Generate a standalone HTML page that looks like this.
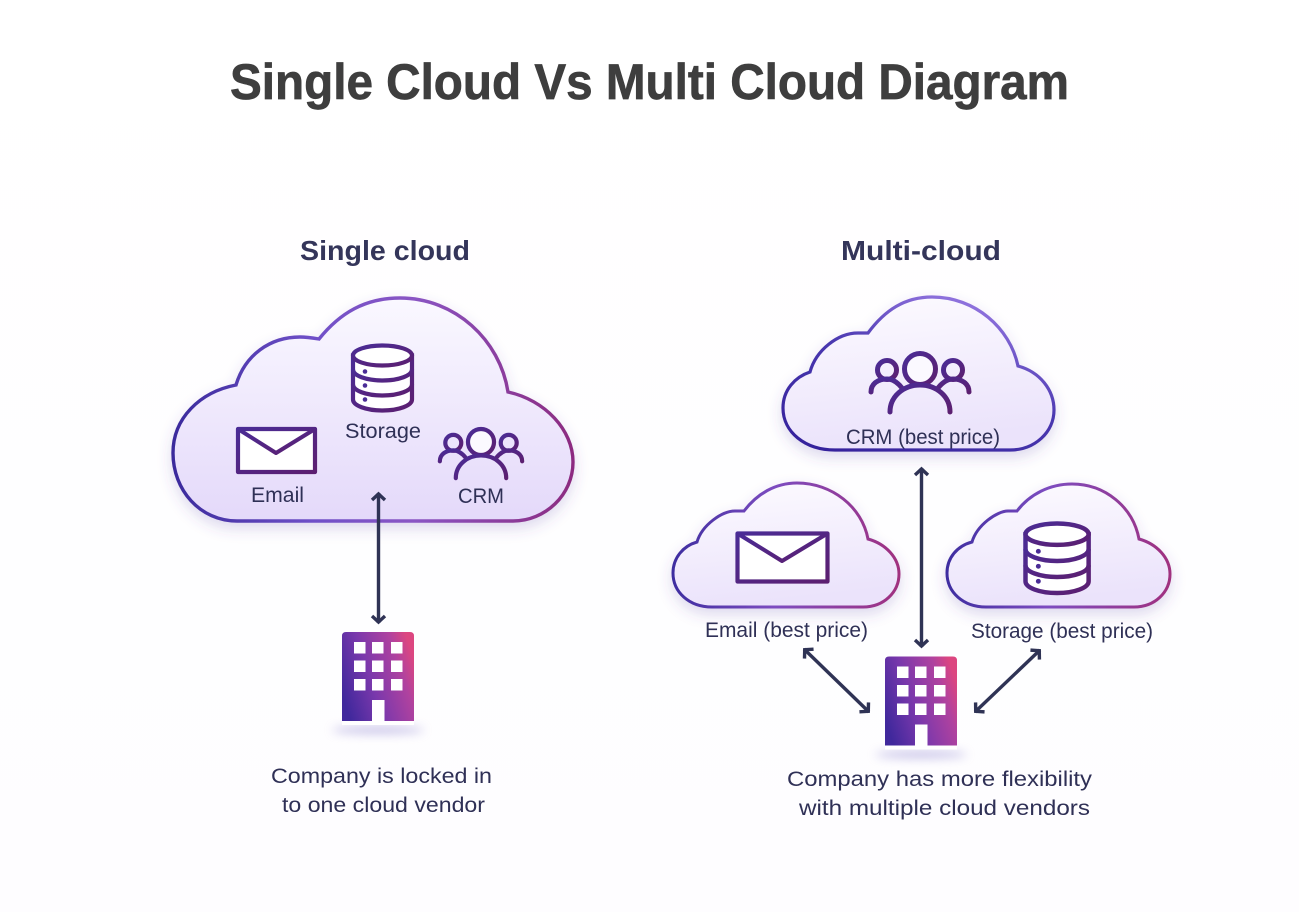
<!DOCTYPE html>
<html><head><meta charset="utf-8"><style>
html,body{margin:0;padding:0;background:#fff}
svg{display:block}
text{font-family:"Liberation Sans",sans-serif}
.t{fill:#2f3056;font-size:21.5px}
.h{fill:#34355a;font-size:28px;font-weight:bold}
</style></head><body>
<svg width="1299" height="912" viewBox="0 0 1299 912" xmlns="http://www.w3.org/2000/svg">
<defs>
<linearGradient id="bg" x1="0" y1="0" x2="0" y2="1"><stop offset="0" stop-color="#ffffff"/><stop offset="1" stop-color="#fefdff"/></linearGradient>
<linearGradient id="f1" x1="0" y1="0" x2="0" y2="1"><stop offset="0" stop-color="#faf8ff"/><stop offset="1" stop-color="#e4d9fa"/></linearGradient>
<linearGradient id="f2" x1="0" y1="0" x2="0.2" y2="1"><stop offset="0" stop-color="#fdfbff"/><stop offset="1" stop-color="#ebe3fb"/></linearGradient>
<linearGradient id="s1" x1="0" y1="0.5" x2="1" y2="0.5"><stop offset="0" stop-color="#3a2a9c"/><stop offset="0.35" stop-color="#6f50c8"/><stop offset="0.6" stop-color="#8a55c4"/><stop offset="1" stop-color="#8c2b80"/></linearGradient>
<linearGradient id="s2" x1="0" y1="1" x2="0.6" y2="0"><stop offset="0" stop-color="#33209a"/><stop offset="0.6" stop-color="#4a38b0"/><stop offset="1" stop-color="#8d70dc"/></linearGradient>
<linearGradient id="s3" x1="0" y1="0.5" x2="1" y2="0.5"><stop offset="0" stop-color="#3e2da0"/><stop offset="0.45" stop-color="#7d4cc0"/><stop offset="1" stop-color="#a0307f"/></linearGradient>
<linearGradient id="ic" x1="0" y1="0" x2="1" y2="1"><stop offset="0" stop-color="#4a2c96"/><stop offset="1" stop-color="#5c1f70"/></linearGradient>
<linearGradient id="b" x1="0" y1="0.7" x2="1" y2="0.3"><stop offset="0" stop-color="#40289c"/><stop offset="0.4" stop-color="#7a38ac"/><stop offset="0.8" stop-color="#b0429f"/><stop offset="1" stop-color="#dc4680"/></linearGradient>
<filter id="sh" x="-10%" y="-10%" width="120%" height="130%"><feDropShadow dx="0" dy="6" stdDeviation="7" flood-color="#5a45a8" flood-opacity=".2"/></filter>
<filter id="bl" x="-30%" y="-300%" width="160%" height="700%"><feGaussianBlur stdDeviation="5"/></filter>
<marker id="a" markerUnits="userSpaceOnUse" markerWidth="20" markerHeight="20" refX="11" refY="10" orient="auto-start-reverse" viewBox="0 0 20 20"><path d="M4 3.500 L10 10 L4 16.500" fill="none" stroke="#2f3355" stroke-width="3.400"/></marker>
<g id="db" fill="#fff" stroke="url(#ic)" stroke-width="4.200">
<path d="M0 10 V54 C0 60 13 65 29.500 65 S59 60 59 54 V10 Z"/>
<ellipse cx="29.500" cy="10" rx="29.500" ry="10"/>
<path d="M0 24 C0 30 13 35 29.500 35 S59 30 59 24 M0 39 C0 45 13 50 29.500 50 S59 45 59 39" fill="none"/>
<circle cx="12" cy="26" r="2.300" fill="#4a2c96" stroke="none"/><circle cx="12" cy="40" r="2.300" fill="#4a2c96" stroke="none"/><circle cx="12" cy="54" r="2.300" fill="#4a2c96" stroke="none"/>
</g>
<g id="pp" fill="none" stroke="url(#ic)" stroke-width="5" stroke-linecap="round">
<circle cx="0" cy="0" r="15.500" fill="#fbf9ff"/>
<circle cx="-33" cy="1" r="9.500"/><circle cx="33" cy="1" r="9.500"/>
<path d="M-49 23 C-49 14 -41 10 -33 10 C-27 10 -22 14 -18 19 M49 23 C49 14 41 10 33 10 C27 10 22 14 18 19"/>
<path d="M-30 43 C-30 27 -16 16 0 16 S30 27 30 43"/>
</g>
<g id="bd">
<ellipse cx="378" cy="730" rx="46" ry="3.500" fill="#9a92d4" opacity=".6" filter="url(#bl)"/>
<rect x="342" y="718" width="72" height="7" fill="#fff"/>
<path d="M346 632 H410 Q414 632 414 636 V721 H342 V636 Q342 632 346 632 Z" fill="url(#b)"/>
<g fill="#fff">
<rect x="354" y="642" width="11.500" height="11.500"/><rect x="372" y="642" width="11.500" height="11.500"/><rect x="391" y="642" width="11.500" height="11.500"/>
<rect x="354" y="660.500" width="11.500" height="11.500"/><rect x="372" y="660.500" width="11.500" height="11.500"/><rect x="391" y="660.500" width="11.500" height="11.500"/>
<rect x="354" y="679" width="11.500" height="11.500"/><rect x="372" y="679" width="11.500" height="11.500"/><rect x="391" y="679" width="11.500" height="11.500"/>
<rect x="372" y="700" width="12.500" height="21"/></g>
</g>
</defs>
<rect width="1299" height="912" fill="url(#bg)"/>

<text x="230" y="99" font-size="50" font-weight="bold" fill="#3e3e3e" stroke="#3e3e3e" stroke-width=".7" textLength="839" lengthAdjust="spacingAndGlyphs">Single Cloud Vs Multi Cloud Diagram</text>
<text class="h" x="300" y="260" textLength="170" lengthAdjust="spacingAndGlyphs">Single cloud</text>
<text class="h" x="841" y="260" textLength="160" lengthAdjust="spacingAndGlyphs">Multi-cloud</text>

<!-- single cloud -->
<path d="M237 521 C200 521 173 490 173 453 C173 418 200 392 236 385 C245 355 270 337 300 337 C307 337 313 338 319 339 C340 313 365 298 400 298 C455 298 500 340 508 392 C545 400 573 430 573 462 C573 495 545 521 513 521 Z" fill="url(#f1)" stroke="url(#s1)" stroke-width="3.400" filter="url(#sh)"/>
<use href="#db" x="353" y="345.500"/>
<text class="t" x="345" y="438" textLength="76" lengthAdjust="spacingAndGlyphs">Storage</text>
<path d="M238 429 H315 V472 H238 Z" fill="#fff" stroke="url(#ic)" stroke-width="4.200" stroke-linejoin="round"/>
<path d="M238 429 L276 453 L315 429" fill="none" stroke="url(#ic)" stroke-width="4" stroke-linejoin="round"/>
<text class="t" x="251" y="502" textLength="53" lengthAdjust="spacingAndGlyphs">Email</text>
<use href="#pp" transform="translate(481 442) scale(.84)"/>
<text class="t" x="458" y="503" textLength="46" lengthAdjust="spacingAndGlyphs">CRM</text>
<use href="#bd"/>
<path d="M378.500 493 V623" stroke="#2f3355" stroke-width="3.400" marker-start="url(#a)" marker-end="url(#a)"/>
<text class="t" x="271" y="783" textLength="221" lengthAdjust="spacingAndGlyphs">Company is locked in</text>
<text class="t" x="282" y="812" textLength="203" lengthAdjust="spacingAndGlyphs">to one cloud vendor</text>

<!-- multi: CRM -->
<path d="M835 450 C805 450 783 432 783 408 C783 390 795 377 810 372 C816 350 838 333 858 333 C862 333 865 333 868 333 C885 310 905 297 932 297 C975 297 1010 328 1018 366 C1040 372 1054 390 1054 410 C1054 432 1035 450 1010 450 Z" fill="url(#f2)" stroke="url(#s2)" stroke-width="3.200" filter="url(#sh)"/>
<use href="#pp" transform="translate(920 369)"/>
<text class="t" x="846" y="444" textLength="154" lengthAdjust="spacingAndGlyphs">CRM (best price)</text>

<!-- multi: Email -->
<path d="M712 607 C689 607 673 592 673 573 C673 558 683 546 697 542 C702 525 722 511 735 511 C738 511 741 511 744 511 C757 494 775 483 797 483 C832 483 862 507 868 539 C886 544 899 558 899 574 C899 592 884 607 863 607 Z" fill="url(#f2)" stroke="url(#s3)" stroke-width="3" filter="url(#sh)"/>
<path d="M737.500 533.500 H827.500 V581.500 H737.500 Z" fill="#fff" stroke="url(#ic)" stroke-width="4.200" stroke-linejoin="round"/>
<path d="M737.500 533.500 L782 561 L827.500 533.500" fill="none" stroke="url(#ic)" stroke-width="4" stroke-linejoin="round"/>
<text class="t" x="705" y="637" textLength="163" lengthAdjust="spacingAndGlyphs">Email (best price)</text>

<!-- multi: Storage -->
<path d="M986 607 C963 607 947 592 947 573 C947 558 957 546 972 542 C977 525 997 511 1008 511 C1011 511 1014 511 1017 511 C1030 494 1050 484 1072 484 C1105 484 1133 507 1139 539 C1157 544 1170 558 1170 574 C1170 592 1155 607 1134 607 Z" fill="url(#f2)" stroke="url(#s3)" stroke-width="3" filter="url(#sh)"/>
<use href="#db" transform="translate(1025.500 523.500) scale(1.07)"/>
<text class="t" x="971" y="638" textLength="182" lengthAdjust="spacingAndGlyphs">Storage (best price)</text>

<!-- company -->
<use href="#bd" transform="translate(543 24.500)"/>
<path d="M921.500 468 V647" stroke="#2f3355" stroke-width="3.400" marker-start="url(#a)" marker-end="url(#a)"/>
<path d="M804 649 L869 712" stroke="#2f3355" stroke-width="3.400" marker-start="url(#a)" marker-end="url(#a)"/>
<path d="M1040 650 L975 712" stroke="#2f3355" stroke-width="3.400" marker-start="url(#a)" marker-end="url(#a)"/>
<text class="t" x="787" y="786" textLength="305" lengthAdjust="spacingAndGlyphs">Company has more flexibility</text>
<text class="t" x="799" y="815" textLength="291" lengthAdjust="spacingAndGlyphs">with multiple cloud vendors</text>
</svg>
</body></html>
